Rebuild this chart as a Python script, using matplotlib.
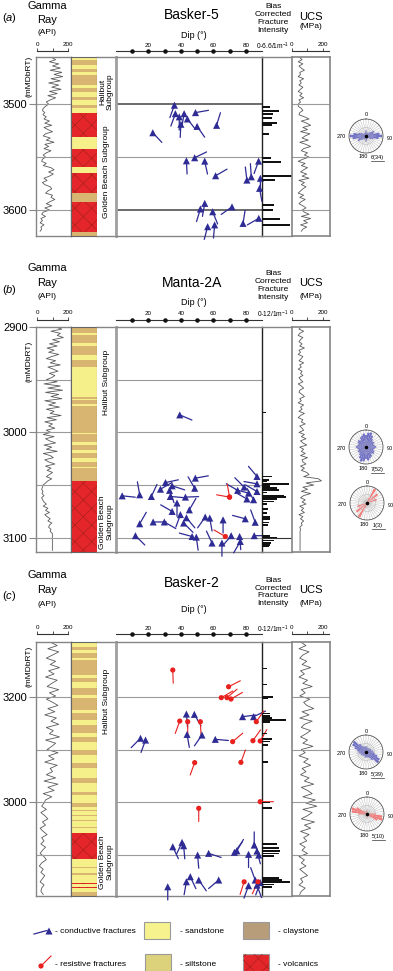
import numpy as np
import matplotlib.pyplot as plt
from matplotlib.patches import Rectangle

plt.rcParams['font.family'] = ['Liberation Sans', 'DejaVu Sans']
plt.rcParams['mathtext.fontset'] = 'custom'
plt.rcParams['mathtext.rm'] = 'Liberation Sans'
plt.rcParams['mathtext.it'] = 'Liberation Sans:italic'
plt.rcParams['hatch.linewidth'] = 0.45

W, H = 393, 971

# ---------------- Basker-5 (a) ----------------
a_gr_top, a_gr_step = 3456, 2
a_gr = [95, 120, 80, 140, 100, 150, 85, 160, 110, 165, 90, 150, 75, 140, 95, 155, 80, 130, 70, 120, 85, 60, 75,
        55, 40, 35, 50, 38,
        60, 45, 80, 50, 95, 45, 70, 100, 55, 40, 85, 60, 110, 50, 75, 45, 90, 60, 40, 55,
        35, 30, 60, 40, 90, 110, 75, 105, 80, 45, 65, 35, 50, 85, 95,
        70, 55, 100, 90, 115, 85, 60, 95, 50, 80,
        40, 30, 55, 25, 35, 20, 45, 25, 30, 20]
a_ucs = [50, 65, 40, 70, 45, 60, 80, 50, 55, 40, 75, 50, 60, 45, 70, 55, 40, 65, 50, 75, 45, 55, 40,
         40, 60, 70, 50, 45,
         80, 110, 60, 95, 120, 70, 100, 55, 115, 85, 65, 105, 50, 90, 120, 75, 60, 100, 80, 110,
         70, 40, 85, 60, 100, 75, 55, 95, 65, 110, 45, 80, 60, 90, 70,
         55, 40, 75, 50, 85, 60, 45, 70, 90, 65,
         80, 110, 60, 120, 75, 100, 55, 95, 70, 60]
a_col_top, a_col_base = 3455.5, 3624.5
a_tan_top = [3458.5, 3466.4, 3472.6, 3485.2, 3493.1, 3501.0, 3583.7, 3621.1]
a_tan_base = [3463.2, 3469.5, 3482.1, 3488.4, 3496.2, 3504.1, 3592.8, 3624.5]
a_volc_top = [3508.8, 3542.8, 3565.4, 3592.8]
a_volc_base = [3531.5, 3559.1, 3583.7, 3621.1]
a_cond_dip = [36.0, 36.6, 39.0, 42.0, 44.0, 40.0, 49.0, 50.0, 62.0, 22.7, 43.4, 48.5, 54.7, 61.4, 87.9,
              80.7, 83.4, 89.0, 88.5, 54.7, 52.0, 59.6, 71.5, 78.3, 88.0, 56.5, 60.8]
a_cond_depth = [3501, 3509, 3512, 3509, 3514, 3519, 3508, 3521, 3520, 3527, 3553.5, 3550.6, 3553.8, 3567.6,
                3553.8, 3571.7, 3568.6, 3570, 3579.5, 3593.7, 3599, 3601.6, 3597, 3612.6, 3607.8, 3615.7, 3614]
a_cond_az = [200, 200, 180, 190, 142, 183, 80, 145, 17, 137, 177, 64, 168, 60, 200, 353, 356, 180, 170,
             190, 197, 158, 235, 9, 240, 195, 185]
a_res_dip, a_res_depth, a_res_az = [], [], []
a_int_depth = [3502.4, 3506.5, 3509.6, 3513.4, 3518.1, 3519.7, 3528.2, 3550.6, 3554.4, 3567.9, 3571.6,
               3595.3, 3600.0, 3608.5, 3614.1]
a_int_val = [1.7, 3.7, 2.4, 2.2, 3.3, 2.2, 1.5, 2.0, 4.2, 6.6, 2.8, 2.7, 2.4, 4.0, 6.2]

# ---------------- Manta-2A (b) ----------------
b_gr_top, b_gr_step = 2900, 2
b_gr = [120, 160, 90, 150, 130, 170, 100, 145, 80, 130, 65, 110, 75, 140, 95, 60, 120, 85, 150, 70, 105, 135, 80, 115, 95,
        60, 130, 45, 150, 70, 165, 55, 140, 90, 160, 50, 120, 75, 145, 60, 110, 85, 155, 65, 125, 50, 100, 75, 115, 60,
        90, 40, 110, 55, 80, 120, 45, 95, 60, 130, 40, 85, 105, 50, 75, 115, 55, 90, 65, 100,
        80, 60, 95, 70, 55,
        40, 35, 30, 38, 32, 45, 30, 36,
        45, 60, 40, 70, 55, 80, 50, 65,
        85, 70, 95, 80, 75, 90, 85,
        99, 99, 99, 99, 99, 99, 99, 99, 99]
b_ucs = [60, 45, 75, 50, 40, 70, 55, 45, 65, 50, 80, 45, 55, 40, 70, 60, 45, 75, 50, 60, 40, 65, 55, 70, 45,
         55, 70, 40, 60, 75, 50, 45, 65, 80, 50, 60, 40, 75, 55, 65, 45, 80, 55, 40, 70, 60, 85, 50, 65, 75,
         45, 80, 60, 90, 55, 70, 95, 50, 75, 60, 85, 55, 100, 65, 70, 90, 55, 80, 60, 95,
         110, 75, 170, 190, 90,
         140, 70, 100, 60, 120, 75, 55, 85,
         65, 90, 50, 75, 60, 80, 45, 70,
         55, 75, 60, 65, 50, 55, 52,
         52, 52, 52, 52, 52, 52, 52, 52, 52]
b_col_top, b_col_base = 2900.0, 3113.5
b_tan_top = [2900.0, 2908.0, 2917.7, 2931.3, 2966.0, 2969.5, 2974.5, 3001.3, 3011.8, 3019.7, 3027.7, 3033.9]
b_tan_base = [2906.0, 2915.5, 2926.5, 2937.6, 2968.5, 2973.5, 3000.3, 3008.7, 3016.6, 3024.5, 3032.4, 3046.6]
b_volc_top = [3046.6]
b_volc_base = [3113.5]
b_cond_dip = [39.3, 48.9, 48.5, 30.5, 27.4, 34.6, 33.0, 3.8, 14.6, 21.8, 33.5, 42.8, 37.6, 34.6, 45.2,
              39.7, 43.4, 14.6, 22.9, 29.8, 41.7, 55.0, 57.8, 66.0, 12.0, 46.9, 49.5, 59.2, 65.3, 71.0,
              76.2, 76.6, 85.2, 79.7, 85.8, 75.0, 80.7, 84.8, 81.7, 79.0, 86.9, 86.9, 86.9]
b_cond_depth = [2983.4, 3043.4, 3053.0, 3047.6, 3053.9, 3050.7, 3055.0, 3060.2, 3059.2, 3060.8, 3060.8,
                3061.4, 3067.0, 3075.0, 3073.5, 3078.0, 3081.0, 3086.7, 3085.0, 3085.0, 3086.0, 3080.3,
                3081.3, 3083.0, 3098.0, 3098.8, 3099.4, 3105.0, 3105.0, 3098.0, 3098.8, 3103.5, 3098.0,
                3082.0, 3085.3, 3055.0, 3063.2, 3063.9, 3057.6, 3051.9, 3041.8, 3048.8, 3056.1]
b_cond_az = [113, 80, 330, 78, 60, 108, 160, 96, 350, 25, 95, 88, 180, 300, 30, 200, 140, 30, 90, 120,
             135, 215, 170, 180, 135, 285, 172, 335, 180, 220, 175, 210, 90, 285, 340, 300, 300, 330,
             285, 315, 320, 280, 300]
b_res_dip = [70.0, 70.0, 67.4]
b_res_depth = [3061.4, 3061.4, 3098.8]
b_res_az = [280, 350, 300]
b_int_depth = [2981.2, 3041.9, 3045.0, 3046.6, 3048.8, 3050.7, 3052.9, 3054.5, 3057.0, 3060.2, 3061.4,
               3063.3, 3065.6, 3067.8, 3072.8, 3076.6, 3080.4, 3082.3, 3085.5, 3087.7, 3098.1, 3100.3,
               3102.5, 3105.0, 3106.6, 3108.2]
b_int_val = [1.7, 4.0, 2.7, 2.0, 10.7, 3.3, 6.0, 6.7, 2.0, 8.7, 9.7, 6.0, 4.7, 2.0, 2.3, 2.0, 3.3, 3.1,
             2.7, 2.3, 3.3, 6.0, 4.7, 3.6, 3.1, 2.7]

# ---------------- Basker-2 (c) ----------------
c_gr_top, c_gr_step = 3148, 3
c_gr = [90, 130, 70, 140, 100, 60, 120, 85, 145, 75, 110, 55, 130, 95, 65, 140, 80, 120, 60, 100, 135,
        70, 115, 50, 125, 90, 140, 60, 105, 80, 145, 55, 120, 95, 65, 135, 75, 110, 50, 130, 85, 100,
        60, 120, 45, 135, 70, 110, 40, 95, 55,
        45, 30, 60, 25, 50, 70, 35, 55, 20, 40, 65, 30, 45, 25, 55, 35, 20, 45, 60, 30, 15, 40, 25, 50,
        35, 20, 45, 30, 25, 40]
c_ucs = [60, 90, 45, 110, 70, 50, 95, 65, 120, 55, 80, 45, 100, 70, 130, 60, 85, 50, 115, 75, 95,
         140, 65, 110, 50, 130, 80, 60, 120, 90, 55, 100, 70, 135, 60, 85, 45, 105, 75, 120, 65, 90,
         55, 110, 80, 140, 60, 100, 130, 70, 150,
         90, 160, 70, 130, 100, 60, 145, 80, 120, 55, 110, 75, 95, 50, 85, 65, 100, 45, 80, 60, 90, 50,
         75, 100, 55, 70, 45, 85, 60, 50]
c_col_top, c_col_base = 3147.6, 3389.5
c_tan_top = [3152.1, 3158.4, 3164.8, 3182.2, 3191.7, 3201.3, 3215.6, 3226.7, 3237.8, 3250.5, 3263.2,
             3277.5, 3290.2, 3301.3, 3307.6, 3312.4, 3317.1, 3323.5, 3361.6, 3368.0, 3385.7]
c_tan_base = [3155.2, 3163.2, 3179.0, 3185.4, 3198.1, 3212.4, 3221.9, 3234.6, 3242.5, 3255.2, 3267.9,
              3282.2, 3293.3, 3304.4, 3308.8, 3313.6, 3318.3, 3324.7, 3362.8, 3369.2, 3389.5]
c_volc_top = [3329.2, 3377.1, 3380.5]
c_volc_base = [3354.6, 3378.1, 3381.5]
c_cond_dip = [43.4, 48.3, 43.8, 53.0, 61.2, 78.0, 84.8, 15.1, 18.2, 35.0, 40.7, 41.7, 50.3, 57.1, 73.0,
              74.5, 81.7, 85.2, 86.9, 88.0, 31.9, 45.8, 43.4, 51.0, 63.3, 81.7, 85.8, 86.9, 88.9]
c_cond_depth = [3216.2, 3216.5, 3235.6, 3236.2, 3240.3, 3218.7, 3218.7, 3239.3, 3241.0, 3342.6, 3338.4,
                3341.6, 3350.5, 3348.9, 3347.9, 3346.5, 3349.8, 3341.0, 3346.7, 3350.5, 3380.7, 3371.1,
                3375.9, 3374.3, 3374.3, 3379.7, 3374.3, 3379.2, 3376.7]
c_cond_az = [175, 150, 170, 215, 95, 83, 65, 225, 200, 155, 205, 175, 175, 108, 37, 30, 180, 0, 165, 340,
             180, 155, 190, 145, 230, 200, 340, 160, 200]
c_res_dip = [35.0, 69.4, 64.9, 68.4, 70.9, 39.3, 44.2, 52.0, 86.5, 71.9, 84.4, 88.9, 48.5, 77.0, 88.9,
             51.0, 79.0, 87.5]
c_res_depth = [3174.3, 3190.2, 3200.6, 3200.6, 3201.9, 3222.9, 3223.5, 3223.5, 3223.5, 3242.5, 3241.6,
               3241.9, 3262.5, 3262.2, 3299.7, 3306.0, 3376.0, 3376.0]
c_res_az = [178, 63, 60, 50, 60, 200, 180, 177, 35, 50, 35, 30, 200, 20, 90, 180, 198, 205]
c_int_depth = [3172.7, 3188.0, 3199.7, 3201.3, 3215.6, 3217.8, 3219.7, 3221.9, 3224.1, 3234.6, 3240.3,
               3242.5, 3245.7, 3262.2, 3300.6, 3306.0, 3340.3, 3343.5, 3346.7, 3348.9, 3351.1, 3372.1,
               3374.3, 3375.9, 3378.4, 3380.7]
c_int_val = [2.0, 2.0, 4.3, 2.3, 3.1, 3.3, 4.0, 9.6, 3.3, 2.0, 4.0, 3.1, 2.3, 2.3, 3.3, 4.0, 6.0, 6.7, 7.3,
             6.7, 4.7, 6.7, 8.0, 11.3, 4.7, 4.0]

# ---------------- rose diagrams (10 degree bins) ----------------
rose_angles = np.arange(0, 360, 10)
a_rose_cond = [0.35, 0.2, 0.15, 0.25, 0.2, 0.35, 0.55, 0.45, 0.8, 0.95, 0.75, 0.45, 0.35, 0.2, 0.15, 0.2, 0.15, 0.25,
               0.35, 0.2, 0.15, 0.25, 0.2, 0.35, 0.55, 0.45, 0.8, 0.95, 0.75, 0.45, 0.35, 0.2, 0.15, 0.2, 0.15, 0.25]
b_rose_cond = [0.7, 0.85, 0.9, 0.75, 0.6, 0.5, 0.55, 0.45, 0.5, 0.6, 0.5, 0.45, 0.55, 0.6, 0.5, 0.65, 0.7, 0.8,
               0.7, 0.85, 0.9, 0.75, 0.6, 0.5, 0.55, 0.45, 0.5, 0.6, 0.5, 0.45, 0.55, 0.6, 0.5, 0.65, 0.7, 0.8]
b_rose_res = [0, 0, 0.3, 0.95, 0, 0.8, 0, 0.6, 0, 0, 0, 0, 0, 0, 0, 0, 0, 0,
              0, 0, 0.3, 0.95, 0, 0.8, 0, 0.6, 0, 0, 0, 0, 0, 0, 0, 0, 0, 0]
c_rose_cond = [0.3, 0.35, 0.25, 0.2, 0.3, 0.25, 0.35, 0.3, 0.4, 0.45, 0.5, 0.7, 0.9, 0.95, 0.6, 0.4, 0.3, 0.35,
               0.3, 0.35, 0.25, 0.2, 0.3, 0.25, 0.35, 0.3, 0.4, 0.45, 0.5, 0.7, 0.9, 0.95, 0.6, 0.4, 0.3, 0.35]
c_rose_res = [0.2, 0, 0, 0, 0, 0, 0, 0, 0, 0.5, 0.9, 0.95, 0.7, 0.3, 0, 0, 0, 0.2,
              0.2, 0, 0, 0, 0, 0, 0, 0, 0, 0.5, 0.9, 0.95, 0.7, 0.3, 0, 0, 0, 0.2]

SAND = '#f6f08a'
TAN = '#d8b570'
VOLC = '#e4262a'
BLUE = '#2e2b94'
RED = '#e8201e'
GREY = '#858585'

fig = plt.figure(figsize=(W / 100, H / 100), dpi=100)


def px_box(x0, y0, x1, y1):
    return [x0 / W, 1 - y1 / H, (x1 - x0) / W, (y1 - y0) / H]


def ftext(x, y, s, **kw):
    kw.setdefault('ha', 'center')
    kw.setdefault('va', 'center')
    fig.text(x / W, 1 - y / H, s, **kw)


def frame(ax, color=GREY, lw=1.0):
    for sp in ax.spines.values():
        sp.set_color(color)
        sp.set_linewidth(lw)
    ax.set_xticks([])
    ax.set_yticks([])


def scale(x0, x1, y, xlim, ticks, labels, dots=False):
    s = fig.add_axes(px_box(x0, y - 0.5, x1, y + 0.5))
    s.set_xlim(*xlim)
    s.set_ylim(0, 1)
    s.patch.set_visible(False)
    for k in ['left', 'right', 'bottom']:
        s.spines[k].set_visible(False)
    s.spines['top'].set_color('#333333')
    s.spines['top'].set_linewidth(0.8)
    s.set_yticks([])
    s.xaxis.tick_top()
    s.set_xticks(ticks)
    s.set_xticklabels(labels, fontsize=4.5)
    if dots:
        s.tick_params(axis='x', length=0, pad=2.5)
        s.scatter(ticks, np.ones(len(ticks)), s=5, color='#111111', zorder=3, clip_on=False)
    else:
        s.tick_params(axis='x', length=2, width=0.6, pad=1, color='#333333')
    return s


def tadpoles(ax, dips, depths, azs, color, marker, size, lw):
    L = 9.5
    for dip, dep, az in zip(dips, depths, azs):
        ax.annotate('', xy=(dip, dep),
                    xytext=(L * np.sin(np.radians(az)), L * np.cos(np.radians(az))),
                    textcoords='offset points', annotation_clip=False,
                    arrowprops=dict(arrowstyle='-', color=color, lw=lw, shrinkA=0, shrinkB=0))
    ax.scatter(dips, depths, marker=marker, s=size, color=color, edgecolor='none', zorder=4, clip_on=False)


def rose(cx, cy, vals, color, count):
    r = 17
    ax = fig.add_axes(px_box(cx - r, cy - r, cx + r, cy + r), projection='polar')
    ax.set_theta_zero_location('N')
    ax.set_theta_direction(-1)
    ax.bar(np.radians(rose_angles), vals, width=np.radians(10), color=color, edgecolor='none', zorder=2)
    ax.set_ylim(0, 1)
    ax.set_thetagrids(np.arange(0, 360, 10), labels=[])
    ax.set_rgrids([0.5], labels=[])
    ax.grid(color='#b0b0b0', lw=0.3)
    ax.set_axisbelow(True)
    ax.spines['polar'].set_color('#555555')
    ax.spines['polar'].set_linewidth(0.6)
    ax.plot([0], [0], 'o', ms=1.5, color='k')
    ftext(cx, cy - 21, '0', fontsize=4)
    ftext(cx + 24, cy + 2, '90', fontsize=4)
    ftext(cx - 25, cy + 1, '270', fontsize=4)
    ftext(cx - 3, cy + 21, '180', fontsize=4)
    ftext(cx + 11, cy + 22, count, fontsize=4)
    fig.add_artist(plt.Line2D([(cx + 5) / W, (cx + 18) / W], [1 - (cy + 25.5) / H] * 2,
                              color='#333333', lw=0.5))


panels = [
    dict(tag='a', name='Basker-5', top=57, bot=236, dtop=a_col_top, dbot=a_col_base,
         ticks=[3500, 3600], ticklabels=['3500', '3600'], lines=[3500, 3550, 3600], dark=[3500, 3600],
         ucs_lines=True, int_lines=[], int_max=6.6, int_label=r'0-6.6/1m$^{-1}$',
         gr=a_gr, gr_top=a_gr_top, gr_step=a_gr_step, ucs=a_ucs,
         col_top=a_col_top, col_base=a_col_base, tan_top=a_tan_top, tan_base=a_tan_base,
         volc_top=a_volc_top, volc_base=a_volc_base,
         cond=(a_cond_dip, a_cond_depth, a_cond_az), res=(a_res_dip, a_res_depth, a_res_az),
         intd=a_int_depth, intv=a_int_val,
         hal=('Halibut\nSubgroup', 3488.5), gb=('Golden Beach Subgroup', 3564.0), mdb=76,
         hdr=dict(tag=18, gamma=6, ray=20, api=33, title=15, dip=35, scale=52, bias=18.5, ucs=16.5, mpa=27),
         roses=[(366, 136, a_rose_cond, '#7272c4', '6(34)')]),
    dict(tag='b', name='Manta-2A', top=327, bot=552, dtop=b_col_top, dbot=b_col_base,
         ticks=[2900, 3000, 3100], ticklabels=['2900', '3000', '3100'], lines=[2950, 3000, 3050, 3100], dark=[],
         ucs_lines=False, int_lines=[3100], int_max=12, int_label=r'0-12/1m$^{-1}$',
         gr=b_gr, gr_top=b_gr_top, gr_step=b_gr_step, ucs=b_ucs,
         col_top=b_col_top, col_base=b_col_base, tan_top=b_tan_top, tan_base=b_tan_base,
         volc_top=b_volc_top, volc_base=b_volc_base,
         cond=(b_cond_dip, b_cond_depth, b_cond_az), res=(b_res_dip, b_res_depth, b_res_az),
         intd=b_int_depth, intv=b_int_val,
         hal=('Halibut Subgroup', 2953.0), gb=('Golden Beach\nSubgroup', 3084.8), mdb=361,
         hdr=dict(tag=290, gamma=268, ray=283, api=297, title=283, dip=302, scale=320, bias=285.5, ucs=283, mpa=296),
         roses=[(366, 447, b_rose_cond, '#7272c4', '7(52)'), (367, 503, b_rose_res, '#f07c7c', '1(3)')]),
    dict(tag='c', name='Basker-2', top=642, bot=896, dtop=c_col_top, dbot=c_col_base,
         ticks=[3200, 3300], ticklabels=['3200', '3000'], lines=[3200, 3250, 3300, 3350], dark=[],
         ucs_lines=True, int_lines=[], int_max=12, int_label=r'0-12/1m$^{-1}$',
         gr=c_gr, gr_top=c_gr_top, gr_step=c_gr_step, ucs=c_ucs,
         col_top=c_col_top, col_base=c_col_base, tan_top=c_tan_top, tan_base=c_tan_base,
         volc_top=c_volc_top, volc_base=c_volc_base,
         cond=(c_cond_dip, c_cond_depth, c_cond_az), res=(c_res_dip, c_res_depth, c_res_az),
         intd=c_int_depth, intv=c_int_val,
         hal=('Halibut Subgroup', 3203.8), gb=('Golden Beach\nSubgroup', 3357.1), mdb=666,
         hdr=dict(tag=596, gamma=575, ray=590, api=604, title=583, dip=609, scale=635, bias=592, ucs=590, mpa=603),
         roses=[(366, 752, c_rose_cond, '#7272c4', '5(39)'), (367, 814, c_rose_res, '#f07c7c', '5(10)')]),
]

for p in panels:
    top, bot = p['top'], p['bot']
    ylim = (p['dbot'], p['dtop'])

    # gamma ray track
    ax = fig.add_axes(px_box(36, top, 71, bot))
    dep = p['gr_top'] + p['gr_step'] * np.arange(len(p['gr']))
    ax.plot(p['gr'], dep, color='#5a5a5a', lw=0.6)
    for d in p['lines']:
        ax.axhline(d, color='#9a9a9a', lw=0.8)
    ax.set_xlim(-6.5, 219)
    ax.set_ylim(*ylim)
    frame(ax)
    ax.set_yticks(p['ticks'])
    ax.set_yticklabels(p['ticklabels'], fontsize=8)
    ax.tick_params(axis='y', length=5, width=0.8, color='#888888', pad=1)

    # lithology column
    axl = fig.add_axes(px_box(71, top, 97, bot))
    axl.bar(0.5, p['col_base'] - p['col_top'], bottom=p['col_top'], width=1, color=SAND, linewidth=0)
    axl.bar(0.5, np.subtract(p['tan_base'], p['tan_top']), bottom=p['tan_top'], width=1, color=TAN, linewidth=0)
    axl.bar(0.5, np.subtract(p['volc_base'], p['volc_top']), bottom=p['volc_top'], width=1, color=VOLC,
            edgecolor='#a8201c', linewidth=0, hatch='xx')
    axl.set_xlim(0, 1)
    axl.set_ylim(*ylim)
    frame(axl, '#666666', 0.8)

    # subgroup column
    axs = fig.add_axes(px_box(97, top, 116, bot))
    axs.set_xlim(0, 1)
    axs.set_ylim(*ylim)
    frame(axs, GREY, 1.0)
    axs.spines['left'].set_visible(False)
    for txt, d in [p['hal'], p['gb']]:
        axs.text(0.5, d, txt, rotation=90, ha='center', va='center', fontsize=6, linespacing=1.0)

    # dip track
    axd = fig.add_axes(px_box(116, top, 262, bot))
    for d in p['lines']:
        axd.axhline(d, color='#444444' if d in p['dark'] else '#9a9a9a', lw=1.1 if d in p['dark'] else 0.8)
    tadpoles(axd, *p['cond'], BLUE, '^', 26, 0.9)
    if len(p['res'][0]):
        tadpoles(axd, *p['res'], RED, 'o', 14, 0.8)
    axd.set_xlim(0, 90)
    axd.set_ylim(*ylim)
    frame(axd)
    axd.spines['left'].set_color('#a0a0a0')
    axd.spines['left'].set_linewidth(2.0)
    axd.spines['right'].set_color('#222222')

    # fracture intensity track
    axi = fig.add_axes(px_box(262, top, 292, bot))
    axi.barh(p['intd'], p['intv'], height=1.6, color='#111111', linewidth=0)
    for d in p['int_lines']:
        axi.axhline(d, color='#333333', lw=0.8)
    axi.set_xlim(0, p['int_max'])
    axi.set_ylim(*ylim)
    frame(axi)
    axi.spines['left'].set_visible(False)
    axi.spines['right'].set_visible(False)
    axi.patch.set_visible(False)

    # UCS track
    axu = fig.add_axes(px_box(292, top, 330, bot))
    dep = p['gr_top'] + p['gr_step'] * np.arange(len(p['ucs']))
    axu.plot(p['ucs'], dep, color='#5a5a5a', lw=0.6)
    if p['ucs_lines']:
        for d in p['lines']:
            axu.axhline(d, color='#9a9a9a', lw=0.8)
    axu.set_xlim(0, 245)
    axu.set_ylim(*ylim)
    frame(axu, GREY, 1.2)

    # header
    h = p['hdr']
    ftext(9, h['tag'], r'$\mathrm{(}\mathit{%s}\mathrm{)}$' % p['tag'], fontsize=8)
    ftext(47, h['gamma'], 'Gamma', fontsize=8)
    ftext(47, h['ray'], 'Ray', fontsize=8)
    ftext(47, h['api'], '(API)', fontsize=6)
    ftext(192, h['title'], p['name'], fontsize=10)
    ftext(194, h['dip'], 'Dip (°)', fontsize=6.5)
    ftext(273, h['bias'], 'Bias\nCorrected\nFracture\nIntensity', fontsize=6, linespacing=1.15)
    ftext(311, h['ucs'], 'UCS', fontsize=8)
    ftext(311, h['mpa'], '(MPa)', fontsize=6)
    ftext(273, h['scale'] - 6, p['int_label'], fontsize=4.8)
    ftext(29, p['mdb'], '(mMDbRT)', fontsize=6, rotation=90)
    scale(37, 68, h['scale'], (0, 200), [0, 100, 200], ['0', '', '200'])
    scale(116, 262, h['scale'], (0, 90), [10, 20, 30, 40, 50, 60, 70, 80],
          ['', '20', '', '40', '', '60', '', '80'], dots=True)
    scale(292, 329, h['scale'], (0, 239), [0, 100, 200], ['0', '', '200'])

    for cx, cy, vals, col, cnt in p['roses']:
        rose(cx, cy, vals, col, cnt)

# legend
axg = fig.add_axes(px_box(0, 905, 393, 971))
axg.set_xlim(0, 393)
axg.set_ylim(971, 905)
axg.axis('off')
axg.plot([34, 47], [934, 930.5], color=BLUE, lw=0.9)
axg.scatter([49], [931], marker='^', s=26, color=BLUE, edgecolor='none')
axg.plot([41, 51], [966, 956], color=RED, lw=0.8)
axg.scatter([41], [966], marker='o', s=14, color=RED, edgecolor='none')
for x0, y0, col, hatch in [(144, 922, '#f6f28e', None), (243, 922, '#b89d7a', None),
                           (145, 954, '#dcd27c', None), (243, 954, VOLC, 'xx')]:
    axg.add_patch(Rectangle((x0, y0), 26, 16.5, facecolor=col, edgecolor='#9a9a9a', lw=0.8))
    if hatch:
        axg.add_patch(Rectangle((x0, y0), 26, 16.5, facecolor='none', edgecolor='#a8201c', lw=0, hatch=hatch))
for x, y, s in [(55, 931, '- conductive fractures'), (180, 931, '- sandstone'), (278, 931, '- claystone'),
                (55, 964, '- resistive fractures'), (180, 964, '- siltstone'), (278, 964, '- volcanics')]:
    axg.text(x, y, s, fontsize=6, va='center', ha='left')

plt.savefig('out.png', dpi=100)
